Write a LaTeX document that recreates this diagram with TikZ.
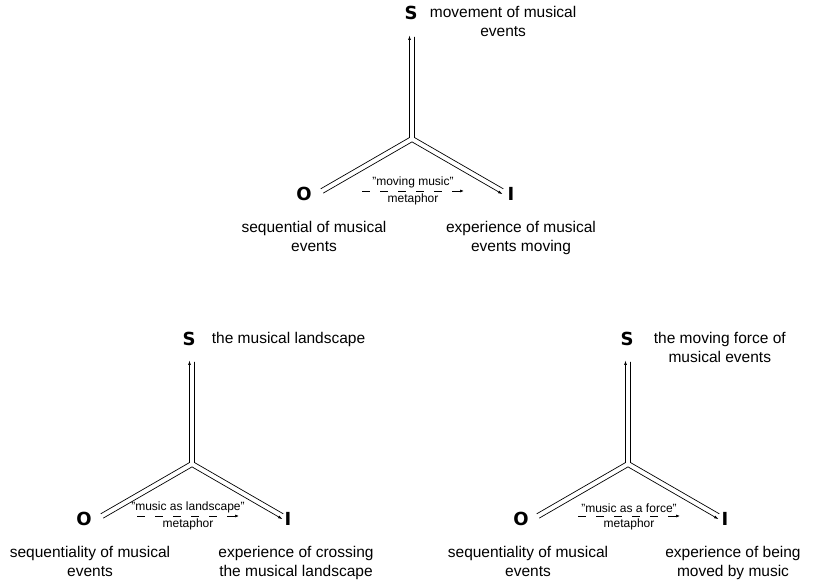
\documentclass[tikz,border=0pt]{standalone}
\usepackage{fontspec}
\setmainfont{Liberation Sans}
\newfontfamily\heavyfont{DejaVu Sans}
\usetikzlibrary{positioning,arrows.meta}

\tikzset{
    letter/.style={font=\heavyfont\bfseries\fontsize{18}{18}\selectfont, inner sep=0pt},
    desc/.style={font=\fontsize{15.5}{19}\selectfont, align=center, inner sep=0pt},
    tag/.style={font=\fontsize{12}{13}\selectfont, inner sep=2pt},
    rail/.style={line width=0.7pt, line join=miter},
    headed/.style={-{Latex[length=4.5pt,width=3pt]}},
    metaarrow/.style={line width=0.7pt, dash pattern=on 8pt off 10pt, -{Latex[length=4pt,width=3pt]}},
}

\begin{document}
\begin{tikzpicture}[x=1pt,y=1pt]
    \useasboundingbox (0,0) rectangle (816,583);

    % moving music
    \begin{scope}[shift={(412,444)}]
        \node[letter] (S1) at (-1,126) {S};
        \node[letter] (O1) at (-108,-55) {O};
        \node[letter] (I1) at (99,-55) {I};
        \node[desc, anchor=north west, xshift=12pt] (s1) at (S1.north east) {movement of musical\\events};
        \node[desc, below=20pt of O1, xshift=10pt] (o1) {sequential of musical\\events};
        \node[desc, below=20pt of I1, xshift=10pt] (i1) {experience of musical\\events moving};
        \draw[rail, headed] (-91.32,-49.83) -- (-2.5,1.443) -- (-2.5,103.5);
        \draw[rail] (2.5,102) -- (2.5,1.443) -- (91.32,-49.83);
        \draw[rail, headed] (-88.82,-54.17) -- (0,-2.887) -- (90.55,-55.17);
        \coordinate (a1) at (-50,-52);
        \coordinate (b1) at (52,-52);
        \draw[metaarrow] (a1) -- (b1)
            node[tag, midway, above, yshift=1pt] {"moving music"}
            node[tag, midway, below] {metaphor};
    \end{scope}

    % music as landscape
    \begin{scope}[shift={(192,119)}]
        \node[letter] (S2) at (-3,125) {S};
        \node[letter] (O2) at (-108,-55) {O};
        \node[letter] (I2) at (96,-55) {I};
        \node[desc, anchor=north west, xshift=16pt] (s2) at (S2.north east) {the musical landscape};
        \node[desc, below=20pt of O2, xshift=6pt] (o2) {sequentiality of musical\\events};
        \node[desc, below=20pt of I2, xshift=8pt] (i2) {experience of crossing\\the musical landscape};
        \draw[rail, headed] (-91.32,-49.83) -- (-2.5,1.443) -- (-2.5,103.5);
        \draw[rail] (2.5,102) -- (2.5,1.443) -- (91.32,-49.83);
        \draw[rail, headed] (-88.82,-54.17) -- (0,-2.887) -- (90.55,-55.17);
        \coordinate (a2) at (-55,-52);
        \coordinate (b2) at (47,-52);
        \draw[metaarrow] (a2) -- (b2)
            node[tag, midway, above, yshift=1pt] {"music as landscape"}
            node[tag, midway, below] {metaphor};
    \end{scope}

    % music as a force
    \begin{scope}[shift={(628,119)}]
        \node[letter] (S3) at (-1,125) {S};
        \node[letter] (O3) at (-107,-55) {O};
        \node[letter] (I3) at (97,-55) {I};
        \node[desc, anchor=north west, xshift=20pt] (s3) at (S3.north east) {the moving force of\\musical events};
        \node[desc, below=20pt of O3, xshift=7pt] (o3) {sequentiality of musical\\events};
        \node[desc, below=20pt of I3, xshift=8pt] (i3) {experience of being\\moved by music};
        \draw[rail, headed] (-91.32,-49.83) -- (-2.5,1.443) -- (-2.5,103.5);
        \draw[rail] (2.5,102) -- (2.5,1.443) -- (91.32,-49.83);
        \draw[rail, headed] (-88.82,-54.17) -- (0,-2.887) -- (90.55,-55.17);
        \coordinate (a3) at (-50,-52);
        \coordinate (b3) at (52,-52);
        \draw[metaarrow] (a3) -- (b3)
            node[tag, midway, above, yshift=1pt] {"music as a force"}
            node[tag, midway, below] {metaphor};
    \end{scope}
\end{tikzpicture}
\end{document}
